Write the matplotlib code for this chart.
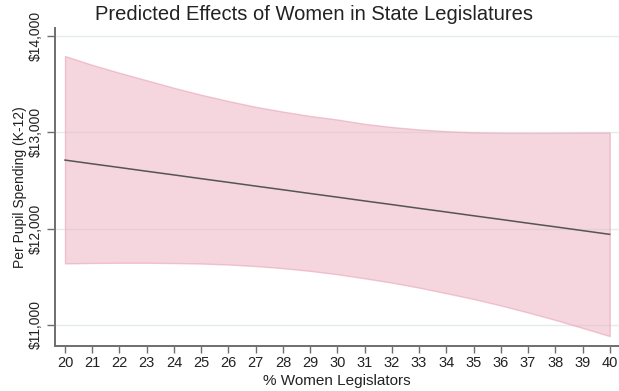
import matplotlib
matplotlib.use("Agg")
import matplotlib.pyplot as plt
from matplotlib.ticker import FuncFormatter

plt.rcParams['font.family'] = ['Liberation Sans', 'DejaVu Sans']

# Share of women legislators (%)
pct_women = [20, 21, 22, 23, 24, 25, 26, 27, 28, 29, 30,
             31, 32, 33, 34, 35, 36, 37, 38, 39, 40]

# Predicted per-pupil spending (linear fit) and its confidence interval
predicted = [12712, 12673, 12635, 12596, 12558, 12519, 12481, 12442, 12404, 12365, 12327,
             12288, 12250, 12211, 12173, 12134, 12096, 12057, 12019, 11980, 11941]
ci_upper = [13792, 13700, 13618, 13540, 13462, 13390, 13325, 13265, 13215, 13170, 13133,
            13088, 13055, 13030, 13012, 13000, 12995, 12994, 12995, 12997, 12998]
ci_lower = [11640, 11644, 11646, 11646, 11643, 11638, 11628, 11612, 11590, 11562, 11527,
            11485, 11440, 11388, 11330, 11270, 11203, 11130, 11053, 10970, 10885]

y_ticks = [11000, 12000, 13000, 14000]

fig = plt.figure(figsize=(6.19, 3.91), dpi=100)
ax = fig.add_axes([55 / 619, 1 - 345.7 / 391, 564 / 619, (345.7 - 28.3) / 391])

for yv in y_ticks:
    ax.axhline(yv, color='#e4ecee', lw=1.0, zorder=0)

ax.fill_between(pct_women, ci_lower, ci_upper, facecolor='#eeb4c4', alpha=0.55,
                edgecolor='#e79fb2', linewidth=1.0, zorder=1)
ax.plot(pct_women, predicted, color='#555555', lw=1.1, zorder=3)

ax.set_xlim(19.633, 40.34)
ax.set_ylim(10785, 14080)
ax.set_xticks(pct_women)
ax.set_yticks(y_ticks)
ax.yaxis.set_major_formatter(FuncFormatter(lambda v, p: f"${v:,.0f}"))

for side in ('top', 'right'):
    ax.spines[side].set_visible(False)
for side in ('left', 'bottom'):
    ax.spines[side].set_color('#6e6e6e')
    ax.spines[side].set_linewidth(1.4)

ax.tick_params(axis='x', length=5, width=1, color='#6e6e6e', labelsize=10.5,
               pad=2.5, labelcolor='#222222')
ax.tick_params(axis='y', length=5.5, width=1, color='#6e6e6e', labelsize=10,
               pad=3.5, labelcolor='#222222')
for lbl in ax.get_yticklabels():
    lbl.set_rotation(90)
    lbl.set_va('center')

ax.set_xlabel('% Women Legislators', fontsize=11, color='#222222')
ax.xaxis.set_label_coords(0.5, (345.7 - 381) / (345.7 - 28.3))
ax.xaxis.label.set_va('center')
ax.set_ylabel('Per Pupil Spending (K-12)', fontsize=10, color='#222222', va='center')
ax.yaxis.set_label_coords((20 - 55) / 564, 0.5)

fig.text(314 / 619, 1 - 15 / 391, 'Predicted Effects of Women in State Legislatures',
         ha='center', va='center', fontsize=14.5, color='#222222')

fig.savefig('out.png', dpi=100)
